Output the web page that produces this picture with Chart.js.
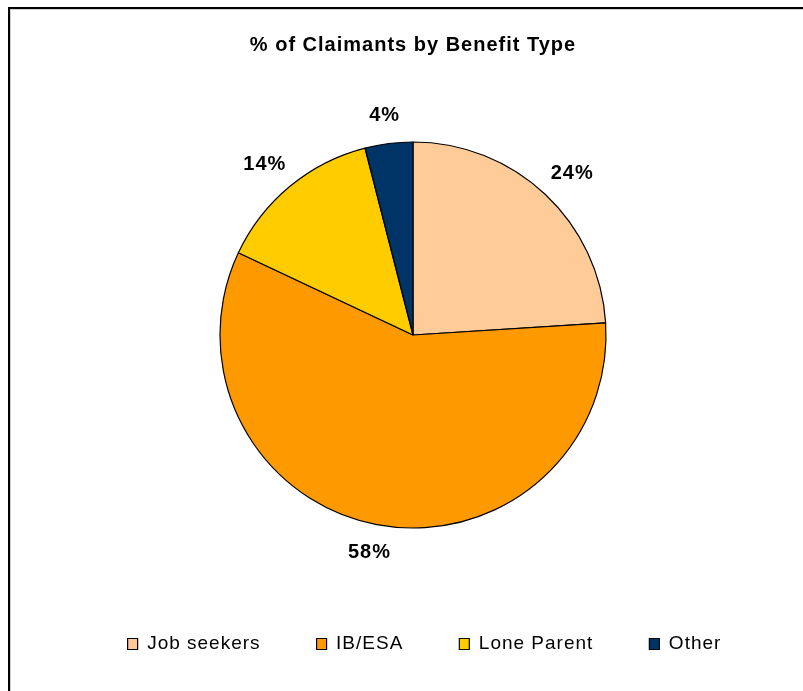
<!DOCTYPE html>
<html>
<head>
<meta charset="utf-8">
<script src="https://cdn.jsdelivr.net/npm/chart.js@4"></script>
<style>
  html, body { margin: 0; padding: 0; background: #fff; overflow: hidden; }
  #wrap { position: relative; width: 803px; height: 691px; }
  #frame {
    position: absolute; left: 8px; top: 7px; width: 820px; height: 720px;
    border-left: 2px solid #000; border-top: 2px solid #000;
    box-shadow: inset 1px 1px 0 #d0d0d0;
    pointer-events: none;
  }
</style>
</head>
<body>
<div id="wrap">
  <canvas id="grafico" width="803" height="691"></canvas>
  <div id="frame"></div>
</div>
<script>
const categorias = ["Job seekers", "IB/ESA", "Lone Parent", "Other"];
const percentuais = [24, 58, 14, 4];
const cores = ["#FFCC99", "#FF9900", "#FFCC00", "#003366"];

const fonte = "'Liberation Sans', Arial, sans-serif";
const espaco = "1px";

// texto um pouco mais largo, como no original
const espacamento = {
  id: "espacamento",
  beforeLayout(chart) { chart.ctx.letterSpacing = espaco; },
  beforeDraw(chart) { chart.ctx.letterSpacing = espaco; },
  afterLayout(chart) {
    // legenda ligeiramente deslocada para a direita
    const leg = chart.legend;
    if (leg) { leg.left += 11.5; leg.right += 11.5; }
  }
};

// rótulos de percentagem fora de cada fatia
const rotulosFora = {
  id: "rotulosFora",
  afterDatasetsDraw(chart) {
    const ctx = chart.ctx;
    const meta = chart.getDatasetMeta(0);
    ctx.save();
    ctx.letterSpacing = espaco;
    ctx.font = "bold 20px " + fonte;
    ctx.fillStyle = "#000";
    ctx.textAlign = "center";
    ctx.textBaseline = "middle";
    meta.data.forEach((arco, i) => {
      const texto = percentuais[i] + "%";
      const w = ctx.measureText(texto).width;
      const h = 20;
      const meio = (arco.startAngle + arco.endAngle) / 2;
      const c = Math.cos(meio), s = Math.sin(meio);
      const r = arco.outerRadius + 18;
      ctx.fillText(texto, arco.x + c * (r + w / 2), arco.y + s * r + s * h / 2);
    });
    ctx.restore();
  }
};

const ctx = document.getElementById("grafico").getContext("2d");

new Chart(ctx, {
  type: "pie",
  data: {
    labels: categorias,
    datasets: [{
      data: percentuais,
      backgroundColor: cores,
      borderColor: "#000",
      borderWidth: 1.2
    }]
  },
  options: {
    responsive: false,
    animation: false,
    radius: 193,
    layout: { padding: { left: 23, right: 0, top: 0, bottom: 27.5 } },
    plugins: {
      title: {
        display: true,
        text: "% of Claimants by Benefit Type",
        color: "#000",
        font: { family: fonte, size: 20, weight: "bold" },
        padding: { top: 33, bottom: 34.5 }
      },
      legend: {
        position: "bottom",
        labels: {
          color: "#000",
          font: { family: fonte, size: 19 },
          boxWidth: 10,
          boxHeight: 11,
          padding: 56
        }
      },
      tooltip: { enabled: false }
    }
  },
  plugins: [espacamento, rotulosFora]
});
</script>
</body>
</html>
